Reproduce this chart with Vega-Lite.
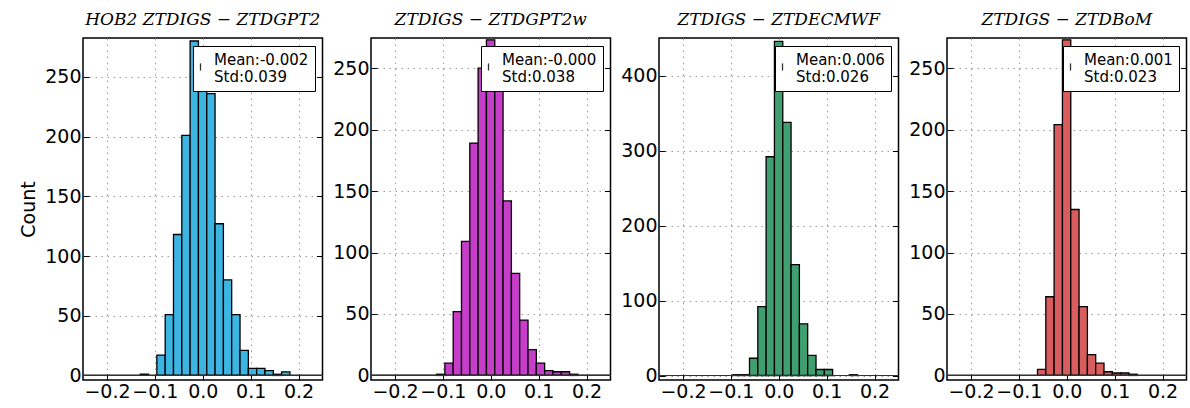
{
  "$schema": "https://vega.github.io/schema/vega-lite/v6.json",
  "background": "white",
  "padding": {"left": 18, "top": 10, "right": 0, "bottom": 0},
  "data": {"values": [
    {"p": "GPT2", "lo": -0.1305, "hi": -0.1132, "n": 1},
    {"p": "GPT2", "lo": -0.0958, "hi": -0.0784, "n": 17},
    {"p": "GPT2", "lo": -0.0784, "hi": -0.0611, "n": 51},
    {"p": "GPT2", "lo": -0.0611, "hi": -0.0437, "n": 118},
    {"p": "GPT2", "lo": -0.0437, "hi": -0.0264, "n": 201},
    {"p": "GPT2", "lo": -0.0264, "hi": -0.0090, "n": 280},
    {"p": "GPT2", "lo": -0.0090, "hi": 0.0084, "n": 268},
    {"p": "GPT2", "lo": 0.0084, "hi": 0.0257, "n": 236},
    {"p": "GPT2", "lo": 0.0257, "hi": 0.0431, "n": 127},
    {"p": "GPT2", "lo": 0.0431, "hi": 0.0604, "n": 80},
    {"p": "GPT2", "lo": 0.0604, "hi": 0.0778, "n": 51},
    {"p": "GPT2", "lo": 0.0778, "hi": 0.0952, "n": 21},
    {"p": "GPT2", "lo": 0.0952, "hi": 0.1125, "n": 6},
    {"p": "GPT2", "lo": 0.1125, "hi": 0.1299, "n": 6},
    {"p": "GPT2", "lo": 0.1299, "hi": 0.1473, "n": 4},
    {"p": "GPT2", "lo": 0.1473, "hi": 0.1646, "n": 1},
    {"p": "GPT2", "lo": 0.1646, "hi": 0.1820, "n": 3},

    {"p": "GPT2w", "lo": -0.1132, "hi": -0.0958, "n": 1},
    {"p": "GPT2w", "lo": -0.0958, "hi": -0.0784, "n": 10},
    {"p": "GPT2w", "lo": -0.0784, "hi": -0.0611, "n": 52},
    {"p": "GPT2w", "lo": -0.0611, "hi": -0.0437, "n": 109},
    {"p": "GPT2w", "lo": -0.0437, "hi": -0.0264, "n": 189},
    {"p": "GPT2w", "lo": -0.0264, "hi": -0.0090, "n": 250},
    {"p": "GPT2w", "lo": -0.0090, "hi": 0.0084, "n": 273},
    {"p": "GPT2w", "lo": 0.0084, "hi": 0.0257, "n": 240},
    {"p": "GPT2w", "lo": 0.0257, "hi": 0.0431, "n": 142},
    {"p": "GPT2w", "lo": 0.0431, "hi": 0.0604, "n": 83},
    {"p": "GPT2w", "lo": 0.0604, "hi": 0.0778, "n": 45},
    {"p": "GPT2w", "lo": 0.0778, "hi": 0.0952, "n": 21},
    {"p": "GPT2w", "lo": 0.0952, "hi": 0.1125, "n": 10},
    {"p": "GPT2w", "lo": 0.1125, "hi": 0.1299, "n": 4},
    {"p": "GPT2w", "lo": 0.1299, "hi": 0.1473, "n": 3},
    {"p": "GPT2w", "lo": 0.1473, "hi": 0.1646, "n": 3},
    {"p": "GPT2w", "lo": 0.1646, "hi": 0.1820, "n": 1},

    {"p": "ECMWF", "lo": -0.0958, "hi": -0.0784, "n": 1},
    {"p": "ECMWF", "lo": -0.0784, "hi": -0.0611, "n": 1},
    {"p": "ECMWF", "lo": -0.0611, "hi": -0.0437, "n": 23},
    {"p": "ECMWF", "lo": -0.0437, "hi": -0.0264, "n": 92},
    {"p": "ECMWF", "lo": -0.0264, "hi": -0.0090, "n": 292},
    {"p": "ECMWF", "lo": -0.0090, "hi": 0.0084, "n": 446},
    {"p": "ECMWF", "lo": 0.0084, "hi": 0.0257, "n": 338},
    {"p": "ECMWF", "lo": 0.0257, "hi": 0.0431, "n": 148},
    {"p": "ECMWF", "lo": 0.0431, "hi": 0.0604, "n": 69},
    {"p": "ECMWF", "lo": 0.0604, "hi": 0.0778, "n": 27},
    {"p": "ECMWF", "lo": 0.0778, "hi": 0.0952, "n": 8},
    {"p": "ECMWF", "lo": 0.0952, "hi": 0.1125, "n": 8},
    {"p": "ECMWF", "lo": 0.1473, "hi": 0.1646, "n": 1},

    {"p": "BoM", "lo": -0.0611, "hi": -0.0437, "n": 5},
    {"p": "BoM", "lo": -0.0437, "hi": -0.0264, "n": 64},
    {"p": "BoM", "lo": -0.0264, "hi": -0.0090, "n": 204},
    {"p": "BoM", "lo": -0.0090, "hi": 0.0084, "n": 273},
    {"p": "BoM", "lo": 0.0084, "hi": 0.0257, "n": 135},
    {"p": "BoM", "lo": 0.0257, "hi": 0.0431, "n": 56},
    {"p": "BoM", "lo": 0.0431, "hi": 0.0604, "n": 17},
    {"p": "BoM", "lo": 0.0604, "hi": 0.0778, "n": 10},
    {"p": "BoM", "lo": 0.0778, "hi": 0.0952, "n": 3},
    {"p": "BoM", "lo": 0.0952, "hi": 0.1125, "n": 2},
    {"p": "BoM", "lo": 0.1125, "hi": 0.1299, "n": 2},
    {"p": "BoM", "lo": 0.1299, "hi": 0.1473, "n": 1}
  ]},
  "bounds": "flush",
  "spacing": 48,
  "resolve": {
    "scale": {"x": "independent", "y": "independent", "stroke": "independent"},
    "legend": {"stroke": "independent"}
  },
  "hconcat": [
    {
      "width": 239.5, "height": 342,
      "title": {"text": "HOB2 ZTDIGS − ZTDGPT2"},
      "transform": [{"filter": "datum.p == 'GPT2'"}],
      "resolve": {"axis": {"y": "independent"}},
      "layer": [
        {
          "mark": {"type": "bar", "fill": "#3db5e3", "stroke": "black", "strokeWidth": 1.3, "fillOpacity": 1},
          "encoding": {
            "x": {"field": "lo", "type": "quantitative", "scale": {"domain": [-0.25, 0.25], "nice": false, "zero": false}, "axis": {"values": [-0.2, -0.1, 0, 0.1, 0.2], "format": ".1f", "title": null}},
            "x2": {"field": "hi"},
            "y": {"field": "n", "type": "quantitative", "scale": {"domain": [-3.8, 282.5], "nice": false, "zero": false}, "axis": {"values": [0, 50, 100, 150, 200, 250], "title": "Count"}},
            "y2": {"datum": 0}
          }
        },
        {
          "mark": {"type": "rule", "strokeWidth": 1},
          "encoding": {
            "y": {"datum": 0, "type": "quantitative", "axis": {"orient": "right", "values": [0, 50, 100, 150, 200, 250], "labels": false, "grid": false, "title": null}},
            "stroke": {"datum": "Mean:-0.002|Std:0.039", "type": "nominal", "scale": {"range": ["#333333"]}, "legend": {"title": null, "labelExpr": "split(datum.label, '|')"}}
          }
        }
      ]
    },
    {
      "width": 239.5, "height": 342,
      "title": {"text": "ZTDIGS − ZTDGPT2w"},
      "transform": [{"filter": "datum.p == 'GPT2w'"}],
      "resolve": {"axis": {"y": "independent"}},
      "layer": [
        {
          "mark": {"type": "bar", "fill": "#c53dc9", "stroke": "black", "strokeWidth": 1.3, "fillOpacity": 1},
          "encoding": {
            "x": {"field": "lo", "type": "quantitative", "scale": {"domain": [-0.25, 0.25], "nice": false, "zero": false}, "axis": {"values": [-0.2, -0.1, 0, 0.1, 0.2], "format": ".1f", "title": null}},
            "x2": {"field": "hi"},
            "y": {"field": "n", "type": "quantitative", "scale": {"domain": [-3.7, 274.5], "nice": false, "zero": false}, "axis": {"values": [0, 50, 100, 150, 200, 250], "title": null}},
            "y2": {"datum": 0}
          }
        },
        {
          "mark": {"type": "rule", "strokeWidth": 1},
          "encoding": {
            "y": {"datum": 0, "type": "quantitative", "axis": {"orient": "right", "values": [0, 50, 100, 150, 200, 250], "labels": false, "grid": false, "title": null}},
            "stroke": {"datum": "Mean:-0.000|Std:0.038", "type": "nominal", "scale": {"range": ["#333333"]}, "legend": {"title": null, "labelExpr": "split(datum.label, '|')"}}
          }
        }
      ]
    },
    {
      "width": 239.5, "height": 342,
      "title": {"text": "ZTDIGS − ZTDECMWF"},
      "transform": [{"filter": "datum.p == 'ECMWF'"}],
      "resolve": {"axis": {"y": "independent"}},
      "layer": [
        {
          "mark": {"type": "bar", "fill": "#3f9f70", "stroke": "black", "strokeWidth": 1.3, "fillOpacity": 1},
          "encoding": {
            "x": {"field": "lo", "type": "quantitative", "scale": {"domain": [-0.25, 0.25], "nice": false, "zero": false}, "axis": {"values": [-0.2, -0.1, 0, 0.1, 0.2], "format": ".1f", "title": null}},
            "x2": {"field": "hi"},
            "y": {"field": "n", "type": "quantitative", "scale": {"domain": [-6, 450.5], "nice": false, "zero": false}, "axis": {"values": [0, 100, 200, 300, 400], "title": null}},
            "y2": {"datum": 0}
          }
        },
        {
          "mark": {"type": "rule", "strokeWidth": 1},
          "encoding": {
            "y": {"datum": 0, "type": "quantitative", "axis": {"orient": "right", "values": [0, 100, 200, 300, 400], "labels": false, "grid": false, "title": null}},
            "stroke": {"datum": "Mean:0.006|Std:0.026", "type": "nominal", "scale": {"range": ["#333333"]}, "legend": {"title": null, "labelExpr": "split(datum.label, '|')"}}
          }
        }
      ]
    },
    {
      "width": 239.5, "height": 342,
      "title": {"text": "ZTDIGS − ZTDBoM"},
      "transform": [{"filter": "datum.p == 'BoM'"}],
      "resolve": {"axis": {"y": "independent"}},
      "layer": [
        {
          "mark": {"type": "bar", "fill": "#d95d5e", "stroke": "black", "strokeWidth": 1.3, "fillOpacity": 1},
          "encoding": {
            "x": {"field": "lo", "type": "quantitative", "scale": {"domain": [-0.25, 0.25], "nice": false, "zero": false}, "axis": {"values": [-0.2, -0.1, 0, 0.1, 0.2], "format": ".1f", "title": null}},
            "x2": {"field": "hi"},
            "y": {"field": "n", "type": "quantitative", "scale": {"domain": [-3.7, 274.5], "nice": false, "zero": false}, "axis": {"values": [0, 50, 100, 150, 200, 250], "title": null}},
            "y2": {"datum": 0}
          }
        },
        {
          "mark": {"type": "rule", "strokeWidth": 1},
          "encoding": {
            "y": {"datum": 0, "type": "quantitative", "axis": {"orient": "right", "values": [0, 50, 100, 150, 200, 250], "labels": false, "grid": false, "title": null}},
            "stroke": {"datum": "Mean:0.001|Std:0.023", "type": "nominal", "scale": {"range": ["#333333"]}, "legend": {"title": null, "labelExpr": "split(datum.label, '|')"}}
          }
        }
      ]
    }
  ],
  "config": {
    "font": "DejaVu Sans",
    "view": {"stroke": "black", "strokeWidth": 1.5},
    "title": {"font": "DejaVu Serif", "fontStyle": "italic", "fontWeight": "normal", "fontSize": 17, "color": "black", "offset": 9, "anchor": "middle"},
    "axis": {
      "domain": false,
      "labelFont": "DejaVu Sans", "labelFontSize": 19, "labelColor": "black",
      "labelOverlap": false, "labelBound": false, "labelFlush": false,
      "tickColor": "black", "tickSize": -6, "tickWidth": 1,
      "labelPadding": 8,
      "grid": true, "gridColor": "#9a9a9a", "gridDash": [1.5, 4.5], "gridWidth": 1,
      "titleFont": "DejaVu Sans", "titleFontSize": 19, "titleFontWeight": "normal", "titleColor": "black", "titlePadding": 6
    },
    "legend": {
      "orient": "top-right", "offset": 8,
      "labelFont": "DejaVu Sans", "labelFontSize": 15, "labelColor": "black", "labelLimit": 400,
      "strokeColor": "black", "fillColor": "white", "padding": 6,
      "symbolType": "M-1,0.65L-1,1.85M1,0L1,0", "symbolSize": 144, "symbolStrokeWidth": 1.3, "symbolFillColor": "transparent",
      "labelOffset": 0,
      "labelBaseline": "middle",
      "encode": {"labels": {"update": {"lineHeight": {"value": 15}}}}
    }
  }
}
